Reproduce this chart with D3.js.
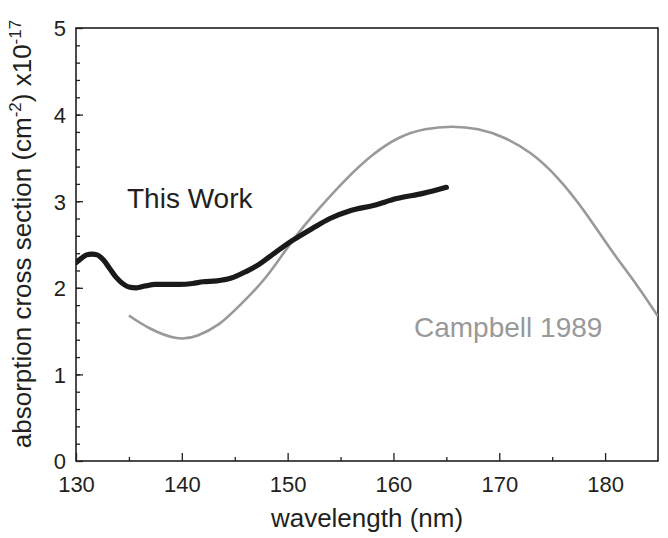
<!DOCTYPE html>
<html>
<head>
<meta charset="utf-8">
<script src="https://cdn.jsdelivr.net/npm/d3@7"></script>
<style>
  body { margin: 0; background: #fff; }
  svg { font-family: "Liberation Sans", Arial, sans-serif; }
</style>
</head>
<body>
<div id="chart"></div>
<script>
// This Work (thick black line)
var workX = [130, 130.5, 131, 131.5, 132, 132.6, 133.2, 133.8, 134.4, 135, 135.7, 136.5, 137.5, 138.6, 139.8,
    141, 142, 143.3, 144.6, 146.1, 147.3, 148.3, 150.5, 152.4, 154, 155.9, 158.1, 160.3, 162.8, 165];
var workY = [2.29, 2.34, 2.38, 2.39, 2.38, 2.32, 2.22, 2.12, 2.05, 2.01, 2.00, 2.02, 2.04, 2.04, 2.04,
    2.05, 2.07, 2.08, 2.11, 2.19, 2.27, 2.36, 2.55, 2.69, 2.80, 2.89, 2.95, 3.03, 3.09, 3.16];

// Campbell 1989 (grey line)
var campX = [135, 137, 139.5, 141.5, 143.5, 145.5, 148, 150.5, 153, 155.5, 158, 160.5,
    163, 165.5, 168, 170.5, 173, 175.5, 178, 180.5, 183, 185];
var campY = [1.68, 1.53, 1.42, 1.45, 1.58, 1.80, 2.13, 2.55, 2.92, 3.25, 3.53, 3.73,
    3.83, 3.86, 3.83, 3.73, 3.55, 3.27, 2.89, 2.45, 2.03, 1.67];

var xTicks = [130, 140, 150, 160, 170, 180];
var yTicks = [0, 1, 2, 3, 4, 5];

var width = 668, height = 538;
var margin = {left: 76, right: 10, top: 28, bottom: 77};

var svg = d3.select("#chart").append("svg")
    .attr("width", width)
    .attr("height", height);

var x = d3.scaleLinear()
    .domain([130, 185])
    .range([margin.left, width - margin.right]);

var y = d3.scaleLinear()
    .domain([0, 5])
    .range([height - margin.bottom, margin.top]);

svg.append("clipPath").attr("id", "clip")
    .append("rect")
    .attr("x", margin.left)
    .attr("y", margin.top)
    .attr("width", width - margin.left - margin.right)
    .attr("height", height - margin.top - margin.bottom);

var axisColor = "#231f20";

// minor ticks
var xMinor = d3.axisBottom(x).tickValues(d3.range(135, 185, 10)).tickSize(-4).tickFormat("");
var yMinor = d3.axisLeft(y).tickValues(d3.range(0.2, 5, 0.2)).tickSize(-4).tickFormat("");

svg.append("g")
    .attr("transform", "translate(0," + y(0) + ")")
    .call(xMinor);

svg.append("g")
    .attr("transform", "translate(" + x(130) + ",0)")
    .call(yMinor);

// major ticks
var xAxis = d3.axisBottom(x).tickValues(xTicks).tickSize(-8).tickPadding(0).tickFormat(d3.format("d"));
var yAxis = d3.axisLeft(y).tickValues(yTicks).tickSize(-7).tickPadding(0).tickFormat(d3.format("d"));

var gx = svg.append("g")
    .attr("transform", "translate(0," + y(0) + ")")
    .call(xAxis);
gx.selectAll("text")
    .attr("y", 31)
    .attr("dy", 0)
    .style("font-size", "22px")
    .attr("fill", axisColor);

var gy = svg.append("g")
    .attr("transform", "translate(" + x(130) + ",0)")
    .call(yAxis);
gy.selectAll("text")
    .attr("x", -10)
    .attr("dy", "0.36em")
    .style("font-size", "22px")
    .attr("fill", axisColor);

svg.selectAll(".domain").remove();
svg.selectAll(".tick line").attr("stroke", axisColor).attr("stroke-width", 1.3);

// frame
svg.append("rect")
    .attr("x", x(130))
    .attr("y", y(5))
    .attr("width", x(185) - x(130))
    .attr("height", y(0) - y(5))
    .attr("fill", "none")
    .attr("stroke", axisColor)
    .attr("stroke-width", 1.6);

var lineWork = d3.line()
    .x(function(d) { return x(d[0]); })
    .y(function(d) { return y(d[1]); })
    .curve(d3.curveMonotoneX);

var lineCamp = d3.line()
    .x(function(d) { return x(d[0]); })
    .y(function(d) { return y(d[1]); })
    .curve(d3.curveNatural);

var plot = svg.append("g").attr("clip-path", "url(#clip)");

plot.append("path")
    .datum(d3.zip(campX, campY))
    .attr("d", lineCamp)
    .attr("fill", "none")
    .attr("stroke", "#999999")
    .attr("stroke-width", 2.6);

plot.append("path")
    .datum(d3.zip(workX, workY))
    .attr("d", lineWork)
    .attr("fill", "none")
    .attr("stroke", "#1a1a1a")
    .attr("stroke-width", 5.2)
    .attr("stroke-linecap", "round");

// annotations
svg.append("text")
    .attr("x", 127)
    .attr("y", 208)
    .style("font-size", "28px")
    .attr("fill", "#231f20")
    .text("This Work");

svg.append("text")
    .attr("x", 414)
    .attr("y", 337)
    .style("font-size", "28px")
    .attr("fill", "#999999")
    .text("Campbell 1989");

// axis titles
svg.append("text")
    .attr("x", (x(130) + x(185)) / 2)
    .attr("y", 527)
    .attr("text-anchor", "middle")
    .style("font-size", "26px")
    .attr("fill", axisColor)
    .text("wavelength (nm)");

var ylab = svg.append("text")
    .attr("transform", "translate(31," + 234 + ") rotate(-90)")
    .attr("text-anchor", "middle")
    .style("font-size", "26px")
    .attr("fill", axisColor);
ylab.append("tspan").text("absorption cross section (cm");
ylab.append("tspan").attr("dy", -10).style("font-size", "17px").text("-2");
ylab.append("tspan").attr("dy", 10).text(") x10");
ylab.append("tspan").attr("dy", -10).style("font-size", "17px").text("-17");
</script>
</body>
</html>
